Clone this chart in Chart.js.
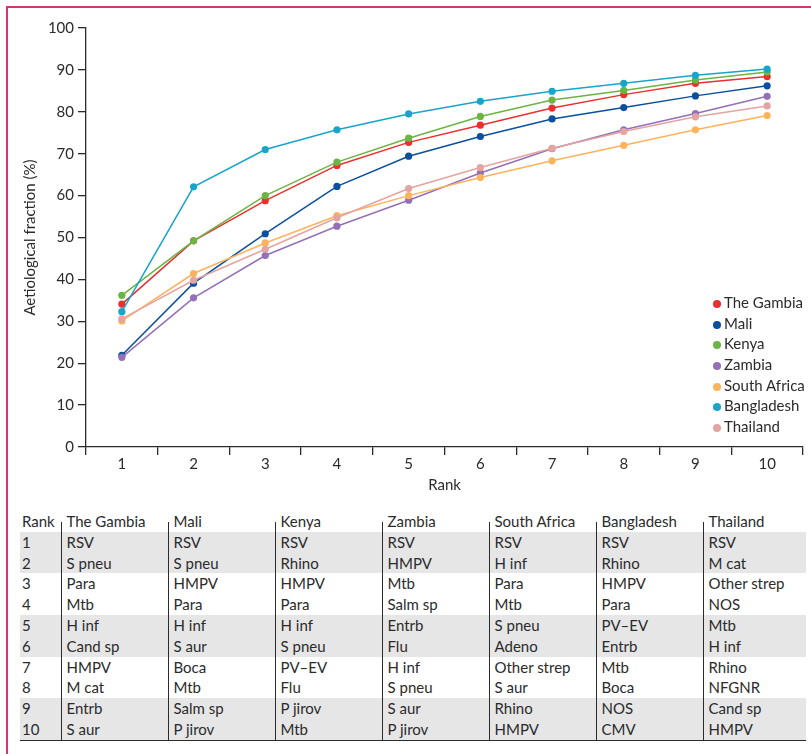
<!DOCTYPE html>
<html>
<head>
<meta charset="utf-8">
<script src="https://cdn.jsdelivr.net/npm/chart.js@4.4.1/dist/chart.umd.min.js"></script>
<style>
  html, body { margin: 0; padding: 0; background: #fff; }
  body { width: 811px; height: 754px; position: relative; overflow: hidden;
         font-family: Lato, "Open Sans", sans-serif; color: #2b2b2b; }
  #frameTop { position: absolute; left: 6px; top: 6px; right: 0; height: 1.5px; background: #d4386b; }
  #frameLeft { position: absolute; left: 6px; top: 6px; bottom: 0; width: 1.5px; background: #d4386b; }
  #chartWrap { position: absolute; left: 0; top: 0; width: 811px; height: 500px; }
  #legend { position: absolute; left: 713px; top: 292px; font-size: 15px; line-height: 20.67px; }
  #legend div { white-space: nowrap; }
  #legend span.dot { display: inline-block; width: 8px; height: 8px; border-radius: 50%;
                     margin-right: 3px; vertical-align: 0px; }
  #tbl { position: absolute; left: 20px; top: 511px; width: 786px; table-layout: fixed;
         border-collapse: collapse; font-size: 15px; }
  #tbl td { padding: 0 0 0 5px; height: 20.8px; line-height: 20.8px; white-space: nowrap;
            overflow: visible; vertical-align: middle; }
  #tbl td:first-child { padding-left: 2px; }
  #tbl td.c { border-left: 1px solid #2b2b2b; }
  #tbl tr.h td { position: relative; }
  #tbl tr.h td.c { border-left: 1px solid transparent; }
  #tbl tr.h td.c::before { content: ""; position: absolute; left: -1px; bottom: 0; height: 10px; border-left: 1px solid #2b2b2b; }
  #tbl tr.g td { background: #e6e6e7; }
  #tbl tr.last td { border-bottom: 1.5px solid #2b2b2b; }
</style>
</head>
<body>
<div id="frameTop"></div>
<div id="frameLeft"></div>
<div id="chartWrap"><canvas id="c" width="811" height="500"></canvas></div>
<div id="legend"></div>
<table id="tbl"><colgroup id="cols"></colgroup><tbody id="tb"></tbody></table>
<script>
// ---- data ----
const ranks = ['1', '2', '3', '4', '5', '6', '7', '8', '9', '10'];
const countries = ['The Gambia', 'Mali', 'Kenya', 'Zambia', 'South Africa', 'Bangladesh', 'Thailand'];
const theGambia   = [34.1, 49.2, 58.8, 67.2, 72.7, 76.8, 80.9, 84.1, 86.8, 88.4];
const mali        = [21.9, 39.1, 50.9, 62.2, 69.4, 74.1, 78.3, 81.0, 83.8, 86.2];
const kenya       = [36.2, 49.2, 60.0, 68.0, 73.7, 78.9, 82.8, 85.1, 87.6, 89.5];
const zambia      = [21.4, 35.6, 45.7, 52.7, 58.9, 65.4, 71.2, 75.7, 79.6, 83.7];
const southAfrica = [30.1, 41.4, 48.7, 55.2, 60.0, 64.3, 68.3, 72.0, 75.7, 79.1];
const bangladesh  = [32.3, 62.1, 71.0, 75.7, 79.5, 82.5, 84.9, 86.8, 88.7, 90.2];
const thailand    = [30.6, 39.8, 47.2, 54.7, 61.7, 66.7, 71.3, 75.3, 78.8, 81.4];
const yTicks = [0, 10, 20, 30, 40, 50, 60, 70, 80, 90, 100];

// pathogen ranking table
const tGambia   = ['RSV', 'S pneu', 'Para', 'Mtb', 'H inf', 'Cand sp', 'HMPV', 'M cat', 'Entrb', 'S aur'];
const tMali     = ['RSV', 'S pneu', 'HMPV', 'Para', 'H inf', 'S aur', 'Boca', 'Mtb', 'Salm sp', 'P jirov'];
const tKenya    = ['RSV', 'Rhino', 'HMPV', 'Para', 'H inf', 'S pneu', 'PV–EV', 'Flu', 'P jirov', 'Mtb'];
const tZambia   = ['RSV', 'HMPV', 'Mtb', 'Salm sp', 'Entrb', 'Flu', 'H inf', 'S pneu', 'S aur', 'P jirov'];
const tSAfrica  = ['RSV', 'H inf', 'Para', 'Mtb', 'S pneu', 'Adeno', 'Other strep', 'S aur', 'Rhino', 'HMPV'];
const tBangla   = ['RSV', 'Rhino', 'HMPV', 'Para', 'PV–EV', 'Entrb', 'Mtb', 'Boca', 'NOS', 'CMV'];
const tThailand = ['RSV', 'M cat', 'Other strep', 'NOS', 'Mtb', 'H inf', 'Rhino', 'NFGNR', 'Cand sp', 'HMPV'];

const colors = ['#e8302e', '#0b4f9f', '#6cb443', '#9370b7', '#fdb35b', '#17a5cb', '#e3a4a2'];
const seriesValues = [theGambia, mali, kenya, zambia, southAfrica, bangladesh, thailand];
const tableCols = [tGambia, tMali, tKenya, tZambia, tSAfrica, tBangla, tThailand];

const FONT = 'Lato, "Open Sans", sans-serif';
const TXT = '#2b2b2b';

const datasets = countries.map((name, i) => ({
  label: name,
  data: seriesValues[i],
  borderColor: colors[i],
  backgroundColor: colors[i],
  borderWidth: 1.5,
  pointRadius: 3.6,
  pointHoverRadius: 3.6,
  pointBorderWidth: 0,
  tension: 0
}));

new Chart(document.getElementById('c'), {
  type: 'line',
  data: { labels: ranks, datasets: datasets.slice().reverse() },
  options: {
    responsive: false,
    animation: false,
    devicePixelRatio: 1,
    layout: { padding: { left: 0, right: 8, top: 28, bottom: 0 } },
    plugins: { legend: { display: false }, tooltip: { enabled: false } },
    scales: {
      x: {
        type: 'category',
        offset: true,
        grid: { offset: true, drawOnChartArea: false, drawTicks: true, tickLength: 8, color: TXT, lineWidth: 1.3 },
        border: { color: TXT, width: 1.3 },
        ticks: { color: TXT, font: { family: FONT, size: 15 }, padding: 0, maxRotation: 0 },
        title: { display: true, text: 'Rank', color: TXT, font: { family: FONT, size: 15 }, padding: { top: 0, bottom: 6 } },
        afterFit: s => { s.height = 53; }
      },
      y: {
        min: 0, max: 100,
        afterBuildTicks: s => { s.ticks = yTicks.map(v => ({ value: v })); },
        grid: { drawOnChartArea: false, drawTicks: true, tickLength: 8, color: TXT, lineWidth: 1.3 },
        border: { color: TXT, width: 1.3 },
        ticks: { color: TXT, font: { family: FONT, size: 15 }, padding: 4 },
        title: { display: true, text: 'Aetiological fraction (%)', color: TXT, font: { family: FONT, size: 15 }, padding: { top: 21, bottom: 0 } },
        afterFit: s => { s.width = 86; }
      }
    }
  }
});

// HTML legend built from the series
const leg = document.getElementById('legend');
countries.forEach((name, i) => {
  const d = document.createElement('div');
  d.innerHTML = '<span class="dot" style="background:' + colors[i] + '"></span>' + name;
  leg.appendChild(d);
});

// table
document.getElementById('cols').innerHTML =
  '<col style="width:41px">' + countries.map((c, i) => '<col style="width:' + (i === countries.length - 1 ? 103 : 107) + 'px">').join('');
let html = '<tr class="h"><td>Rank</td>' + countries.map(c => '<td class="c">' + c + '</td>').join('') + '</tr>';
ranks.forEach((r, i) => {
  const grp = Math.floor(i / 2);
  const cls = [(grp % 2 === 0) ? 'g' : '', i === ranks.length - 1 ? 'last' : ''].join(' ');
  html += '<tr class="' + cls + '"><td>' + r + '</td>' + tableCols.map(col => '<td class="c">' + col[i] + '</td>').join('') + '</tr>';
});
document.getElementById('tb').innerHTML = html;
</script>
</body>
</html>
